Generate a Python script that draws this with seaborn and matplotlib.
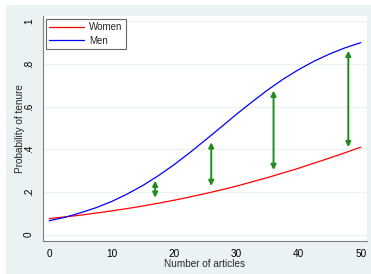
import numpy as np
import pandas as pd
import matplotlib
matplotlib.use('Agg')
import matplotlib.pyplot as plt
import matplotlib.patches as mpatches
import seaborn as sns

# ─── DATA ───────────────────────────────────────────────────────────────────
articles = [0, 2.5, 5, 7.5, 10, 12.5, 15, 17.5, 20, 22.5, 25,
            27.5, 30, 32.5, 35, 37.5, 40, 42.5, 45, 47.5, 50]
women = [0.075, 0.083, 0.091, 0.101, 0.111, 0.122, 0.134, 0.147, 0.161, 0.176, 0.192,
         0.209, 0.227, 0.247, 0.267, 0.289, 0.311, 0.335, 0.359, 0.384, 0.410]
men = [0.065, 0.081, 0.102, 0.126, 0.155, 0.190, 0.230, 0.276, 0.327, 0.383, 0.442,
       0.502, 0.563, 0.621, 0.677, 0.728, 0.773, 0.813, 0.847, 0.876, 0.900]

arrow_x = [17, 26, 36, 48]
arrow_lo = [0.173, 0.228, 0.303, 0.410]
arrow_hi = [0.253, 0.433, 0.675, 0.862]

yticks = [0, 0.2, 0.4, 0.6, 0.8, 1]
ytick_labels = ['0', '.2', '.4', '.6', '.8', '1']
xticks = [0, 10, 20, 30, 40, 50]

df = pd.DataFrame({
    'articles': articles * 2,
    'prob': women + men,
    'group': ['Women'] * len(women) + ['Men'] * len(men),
})

# ─── STYLE ──────────────────────────────────────────────────────────────────
sns.set_style('white')
plt.rcParams['font.family'] = ['Liberation Sans', 'DejaVu Sans']

BG = '#EAF2F3'
AXC = '#7f7f7f'

fig = plt.figure(figsize=(3.71, 2.74), dpi=100, facecolor='white')
fig.patches.append(mpatches.Rectangle((6 / 371, 0), 1, 269 / 274, transform=fig.transFigure,
                                      facecolor=BG, edgecolor='none', zorder=-10))
ax = fig.add_axes([43 / 371, 33 / 274, 324 / 371, 225 / 274])
ax.set_zorder(5)
ax.set_facecolor('white')

for y in yticks:
    ax.axhline(y, color=BG, lw=0.9, zorder=0)

sns.lineplot(data=df, x='articles', y='prob', hue='group',
             palette={'Women': '#ff0000', 'Men': '#0000ff'},
             lw=0.9, ax=ax, legend=False)

for x, lo, hi in zip(arrow_x, arrow_lo, arrow_hi):
    ax.annotate('', xy=(x, hi), xytext=(x, lo),
                arrowprops=dict(arrowstyle='<|-|>', color='#1e8c1e', lw=1.4,
                                mutation_scale=7.5, shrinkA=0, shrinkB=0))

ax.set_xlim(-1, 51)
ax.set_ylim(-0.03, 1.025)
ax.set_xticks(xticks)
ax.set_yticks(yticks)
ax.set_yticklabels(ytick_labels, rotation=90, va='center')
ax.tick_params(axis='both', direction='out', length=3.5, width=0.8, color=AXC,
               labelsize=7.2, pad=3, labelcolor='black')
ax.tick_params(axis='x', pad=2.5)
for s in ['top', 'right']:
    ax.spines[s].set_visible(False)
for s in ['left', 'bottom']:
    ax.spines[s].set_color(AXC)
    ax.spines[s].set_linewidth(0.8)

ax.set_xlabel('Number of articles', fontsize=7.2)
ax.set_ylabel('Probability of tenure', fontsize=7.2)
ax.xaxis.set_label_coords(0.5, -0.082)
ax.yaxis.set_label_coords(-0.056, 0.5)
ax.xaxis.label.set_va('top')

handles = [plt.Line2D([], [], color='#ff0000', lw=0.9, label='Women'),
           plt.Line2D([], [], color='#0000ff', lw=0.9, label='Men')]
leg = ax.legend(handles=handles, loc='upper left', fontsize=7, frameon=True,
                fancybox=False, edgecolor='#404040', handlelength=3.6,
                handletextpad=0.5, borderpad=0.35, labelspacing=0.35,
                borderaxespad=0, bbox_to_anchor=(3 / 324, 1 - 3 / 225))
leg.get_frame().set_linewidth(0.8)

fig.savefig('out.png', dpi=100, facecolor=fig.get_facecolor())
